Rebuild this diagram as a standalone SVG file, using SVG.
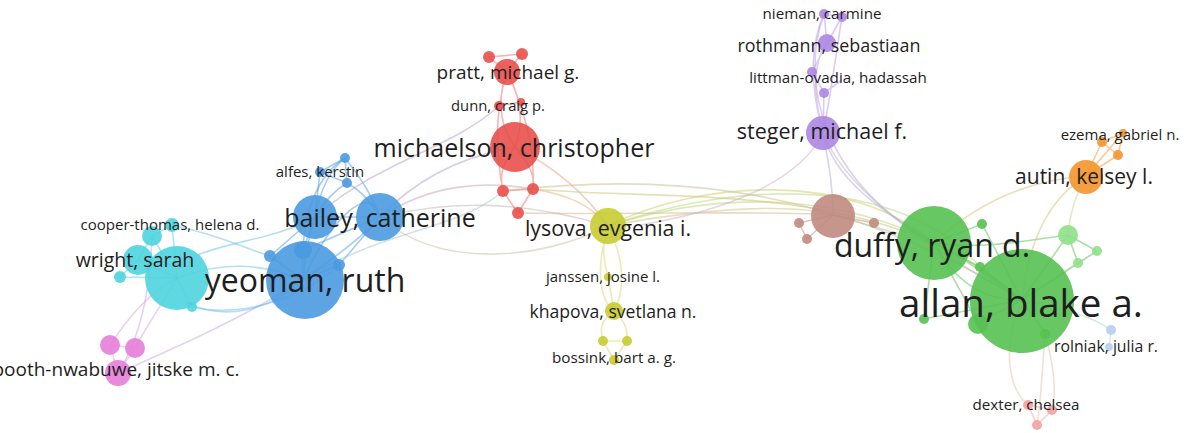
<svg xmlns="http://www.w3.org/2000/svg" width="1187" height="433" viewBox="0 0 1187 433">
<style>
.e{fill:none;stroke-width:1.6;stroke-opacity:0.5}
.n{fill-opacity:0.9}
text{font-family:"Open Sans","Liberation Sans",sans-serif;fill:#1e1e1e;text-anchor:middle;dominant-baseline:central}
.cy{fill:#4fd4de}.bl{fill:#4a9ae0}.rd{fill:#e8504d}.ye{fill:#c8cc32}.pu{fill:#ac86e3}.br{fill:#c08a80}.gr{fill:#56c152}.lg{fill:#8fe08a}.or{fill:#f4952f}.pk{fill:#e67ed8}.lb{fill:#b9cdf0}.rp{fill:#f2a3a3}
</style>
<rect width="1187" height="433" fill="#ffffff"/>
<g id="connectors">
<path class="e" stroke="#c8a8e8" d="M110,345 C130,315 150,292 177,278"/>
<path class="e" stroke="#c8a8e8" d="M135,348 C150,320 165,300 177,278"/>
<path class="e" stroke="#c8a8e8" d="M118,373 C145,330 150,280 152,236"/>
<path class="e" stroke="#c8a8e8" d="M118,373 C170,350 240,320 303,280"/>
<path class="e" stroke="#e8a0e0" d="M110,345 L135,348 L118,373 Z"/>
<path class="e" stroke="#4fd4de" d="M177,278 L138,260 M177,278 L152,236 M177,278 L172,225 M177,278 L120,277 M177,278 L192,307 M152,236 L172,225 M138,260 L152,236 M138,260 L120,277"/>
<path class="e" stroke="#6cc0ea" d="M177,278 C220,262 260,262 303,280"/>
<path class="e" stroke="#6cc0ea" d="M190,258 C230,240 275,240 315,217"/>
<path class="e" stroke="#6cc0ea" d="M185,302 C225,322 270,310 303,280"/>
<path class="e" stroke="#6cc0ea" d="M172,225 C220,235 250,250 270,256"/>
<path class="e" stroke="#6cc0ea" d="M192,307 C240,318 300,300 339,265"/>
<path class="e" stroke="#4a9ae0" d="M303,280 C305,250 310,235 315,217 M303,280 C330,260 360,240 380,217 M315,217 L380,217 M315,217 C320,190 330,170 345,158 M315,217 C325,200 335,190 347,183 M380,217 C370,190 355,170 345,158 M380,217 C370,200 360,190 347,183 M345,158 L347,183 M320,172 L345,158 M320,172 L347,183 M320,172 C318,190 316,205 315,217 M303,250 L315,217 M270,256 L315,217 M339,265 L380,217 M270,256 L303,280 M339,265 L303,280 M303,250 L380,217"/>
<path class="e" stroke="#4a9ae0" d="M303,280 C300,230 310,180 345,158"/>
<path class="e" stroke="#4a9ae0" d="M303,280 C330,220 370,180 380,217"/>
<path class="e" stroke="#b69ac8" d="M380,217 C420,175 470,155 515,147"/>
<path class="e" stroke="#b69ac8" d="M315,217 C380,160 450,150 499,106"/>
<path class="e" stroke="#c8a0b0" d="M380,217 C430,185 480,180 533,189"/>
<path class="e" stroke="#c8c0a0" d="M380,217 C440,270 540,260 608,226"/>
<path class="e" stroke="#c0b4b0" d="M380,217 C450,200 520,200 608,226"/>
<path class="e" stroke="#a8c8c8" d="M303,280 C380,230 460,230 503,191"/>
<path class="e" stroke="#ee6e6a" d="M507,72 C498,95 498,125 515,147 M507,72 C520,95 525,120 515,147 M489,57 L507,72 M522,54 L507,72 M489,57 L522,54 M499,106 L521,102 M515,147 C500,165 500,180 503,191 M515,147 C530,165 535,175 533,189 M503,191 L533,189 M503,191 L518,213 M533,189 L518,213 M507,72 C495,110 495,150 503,191 M507,72 C525,110 535,150 533,189"/>
<path class="e" stroke="#e8a080" d="M515,147 C560,170 590,200 608,226"/>
<path class="e" stroke="#e0b070" d="M533,189 C570,195 590,205 608,226"/>
<path class="e" stroke="#d0c070" d="M533,189 C650,200 800,185 934,243"/>
<path class="e" stroke="#d8b090" d="M518,213 C650,215 760,210 833,215"/>
<path class="e" stroke="#d0b890" d="M503,191 C640,175 820,175 1022,300"/>
<path class="e" stroke="#c8d060" d="M608,226 C700,180 850,170 934,243"/>
<path class="e" stroke="#b8d870" d="M608,226 C720,190 880,180 1022,300"/>
<path class="e" stroke="#c8c880" d="M608,226 C720,205 800,205 833,215"/>
<path class="e" stroke="#b8d870" d="M608,226 C740,180 900,175 980,267"/>
<path class="e" stroke="#d8d870" d="M608,226 C600,250 605,265 608,277 M608,226 C625,260 625,290 614,311 M608,226 C595,270 600,300 614,311 M614,311 C600,320 600,330 603,341 M614,311 C625,320 628,330 627,341 M603,341 L627,341 M603,341 L614,360 M627,341 L614,360 M608,277 L614,311"/>
<path class="e" stroke="#b898e8" d="M824,14 C812,40 808,80 823,133 M842,17 C835,60 830,100 823,133 M824,14 L842,17 M827,43 L824,14 M827,43 L842,17 M827,43 C814,60 812,90 823,133 M812,72 L824,93 M842,80 L824,93 M824,93 L823,133 M812,72 L827,43"/>
<path class="e" stroke="#b8a8d8" d="M824,14 C800,80 820,180 934,243"/>
<path class="e" stroke="#b8a8d8" d="M823,133 C835,180 880,210 934,243"/>
<path class="e" stroke="#b8a8d8" d="M823,133 C830,170 833,190 833,215"/>
<path class="e" stroke="#d0b0c8" d="M823,133 C800,180 730,210 640,225"/>
<path class="e" stroke="#b8b8c8" d="M823,133 C850,200 950,260 1022,300"/>
<path class="e" stroke="#c08a80" d="M833,215 L799,223 M833,215 L807,239 M799,223 L807,239 M833,215 L874,223"/>
<path class="e" stroke="#a8c8a0" d="M833,215 C870,225 900,235 934,243"/>
<path class="e" stroke="#56c152" d="M934,243 C970,260 990,280 1022,300 M934,243 C960,290 990,300 1022,300 M934,243 L982,224 M934,243 L980,267 M1022,300 L980,267 M1022,300 L982,224 M1022,300 L978,323 M1022,300 L924,319 M1022,300 L1045,333 M934,243 L924,319 M934,243 L978,323 M1022,300 L1068,235 M1022,300 L1078,263 M1022,300 L1097,251 M1068,235 L1097,251 M1068,235 L1078,263 M1078,263 L1097,251 M934,243 C980,250 1030,240 1068,235"/>
<path class="e" stroke="#d8c070" d="M1022,300 C1030,230 1055,195 1086,176"/>
<path class="e" stroke="#d8c070" d="M934,243 C980,200 1030,180 1086,176"/>
<path class="e" stroke="#c8d890" d="M1068,235 C1070,210 1078,190 1086,176"/>
<path class="e" stroke="#f4952f" d="M1086,176 L1102,142 M1086,176 L1118,155 M1102,142 L1118,155 M1102,142 L1123,133 M1118,155 L1123,133 M1086,176 L1123,133"/>
<path class="e" stroke="#a8d8c8" d="M1022,300 C1070,310 1095,318 1111,330 M1111,330 L1109,347"/>
<path class="e" stroke="#e8c0a8" d="M1022,300 C1000,350 1010,390 1028,405"/>
<path class="e" stroke="#e8c0a8" d="M1045,333 C1055,370 1056,395 1052,410"/>
<path class="e" stroke="#e8c0a8" d="M1045,333 C1042,380 1040,410 1037,425"/>
<path class="e" stroke="#f2a3a3" d="M1028,405 L1052,410 M1028,405 L1037,425 M1052,410 L1037,425"/>
</g>
<g id="nodes">
<g id="n-pink"><circle class="n pk" cx="110" cy="345" r="10"/><circle class="n pk" cx="135" cy="348" r="10"/><circle class="n pk" cx="118" cy="373" r="13"/></g>
<g id="n-cyan"><circle class="n cy" cx="177" cy="278" r="32"/><circle class="n cy" cx="138" cy="260" r="15"/><circle class="n cy" cx="152" cy="236" r="10"/><circle class="n cy" cx="172" cy="225" r="7"/><circle class="n cy" cx="120" cy="277" r="6"/><circle class="n cy" cx="192" cy="307" r="5"/></g>
<g id="n-blue"><circle class="n bl" cx="305" cy="280" r="39"/><circle class="n bl" cx="315" cy="217" r="22"/><circle class="n bl" cx="380" cy="217" r="24"/><circle class="n bl" cx="345" cy="158" r="5"/><circle class="n bl" cx="347" cy="183" r="5"/><circle class="n bl" cx="320" cy="172" r="5"/><circle class="n bl" cx="303" cy="250" r="9"/><circle class="n bl" cx="270" cy="256" r="6"/><circle class="n bl" cx="339" cy="265" r="6"/></g>
<g id="n-red"><circle class="n rd" cx="515" cy="147" r="25"/><circle class="n rd" cx="507" cy="72" r="13"/><circle class="n rd" cx="489" cy="57" r="6"/><circle class="n rd" cx="522" cy="54" r="6"/><circle class="n rd" cx="499" cy="106" r="5"/><circle class="n rd" cx="521" cy="102" r="4"/><circle class="n rd" cx="503" cy="191" r="6"/><circle class="n rd" cx="533" cy="189" r="6"/><circle class="n rd" cx="518" cy="213" r="6"/></g>
<g id="n-yellow"><circle class="n ye" cx="608" cy="226" r="18"/><circle class="n ye" cx="608" cy="277" r="4"/><circle class="n ye" cx="614" cy="311" r="9"/><circle class="n ye" cx="603" cy="341" r="5"/><circle class="n ye" cx="627" cy="341" r="5"/><circle class="n ye" cx="614" cy="360" r="5"/></g>
<g id="n-purple"><circle class="n pu" cx="823" cy="133" r="17"/><circle class="n pu" cx="827" cy="43" r="9"/><circle class="n pu" cx="824" cy="14" r="5"/><circle class="n pu" cx="842" cy="17" r="5"/><circle class="n pu" cx="812" cy="72" r="5"/><circle class="n pu" cx="824" cy="93" r="5"/></g>
<g id="n-brown"><circle class="n br" cx="833" cy="216" r="22"/><circle class="n br" cx="799" cy="223" r="5"/><circle class="n br" cx="807" cy="239" r="5"/><circle class="n br" cx="874" cy="223" r="5"/></g>
<g id="n-green"><circle class="n gr" cx="934" cy="243" r="37"/><circle class="n gr" cx="1022" cy="301" r="52"/><circle class="n gr" cx="982" cy="224" r="5"/><circle class="n gr" cx="980" cy="267" r="5"/><circle class="n gr" cx="924" cy="319" r="5"/><circle class="n gr" cx="978" cy="324" r="10"/><circle class="n gr" cx="1045" cy="334" r="5"/><circle class="n lg" cx="1068" cy="235" r="10"/><circle class="n lg" cx="1097" cy="251" r="5"/><circle class="n lg" cx="1078" cy="263" r="5"/></g>
<g id="n-orange"><circle class="n or" cx="1086" cy="177" r="17"/><circle class="n or" cx="1102" cy="142" r="5"/><circle class="n or" cx="1118" cy="155" r="5"/><circle class="n or" cx="1123" cy="133" r="4"/></g>
<g id="n-lightblue"><circle class="n lb" cx="1111" cy="330" r="5"/><circle class="n lb" cx="1109" cy="347" r="4"/></g>
<g id="n-dexter"><circle class="n rp" cx="1028" cy="405" r="5"/><circle class="n rp" cx="1052" cy="410" r="5"/><circle class="n rp" cx="1037" cy="425" r="5"/></g>
</g>
<g id="labels">
<text x="116" y="369" font-size="19">booth-nwabuwe, jitske m. c.</text>
<text x="170" y="224" font-size="15">cooper-thomas, helena d.</text>
<text x="135" y="259" font-size="19.5">wright, sarah</text>
<text x="305" y="279" font-size="32">yeoman, ruth</text>
<text x="320" y="171" font-size="15">alfes, kerstin</text>
<text x="380" y="217" font-size="25">bailey, catherine</text>
<text x="508" y="72" font-size="19">pratt, michael g.</text>
<text x="498" y="105" font-size="14.8">dunn, craig p.</text>
<text x="514" y="147" font-size="25">michaelson, christopher</text>
<text x="608" y="227" font-size="21.4">lysova, evgenia i.</text>
<text x="603" y="276" font-size="15">janssen, josine l.</text>
<text x="613" y="311" font-size="17.6">khapova, svetlana n.</text>
<text x="614" y="357" font-size="15.2">bossink, bart a. g.</text>
<text x="822" y="13" font-size="15.2">nieman, carmine</text>
<text x="829" y="45" font-size="17.9">rothmann, sebastiaan</text>
<text x="838" y="77" font-size="15.2">littman-ovadia, hadassah</text>
<text x="822" y="130" font-size="21.5">steger, michael f.</text>
<text x="932" y="244" font-size="32">duffy, ryan d.</text>
<text x="1021" y="302" font-size="38.5">allan, blake a.</text>
<text x="1120" y="134" font-size="15">ezema, gabriel n.</text>
<text x="1084" y="176" font-size="21">autin, kelsey l.</text>
<text x="1106" y="346" font-size="15.8">rolniak, julia r.</text>
<text x="1026" y="404" font-size="15.2">dexter, chelsea</text>
</g>
</svg>
